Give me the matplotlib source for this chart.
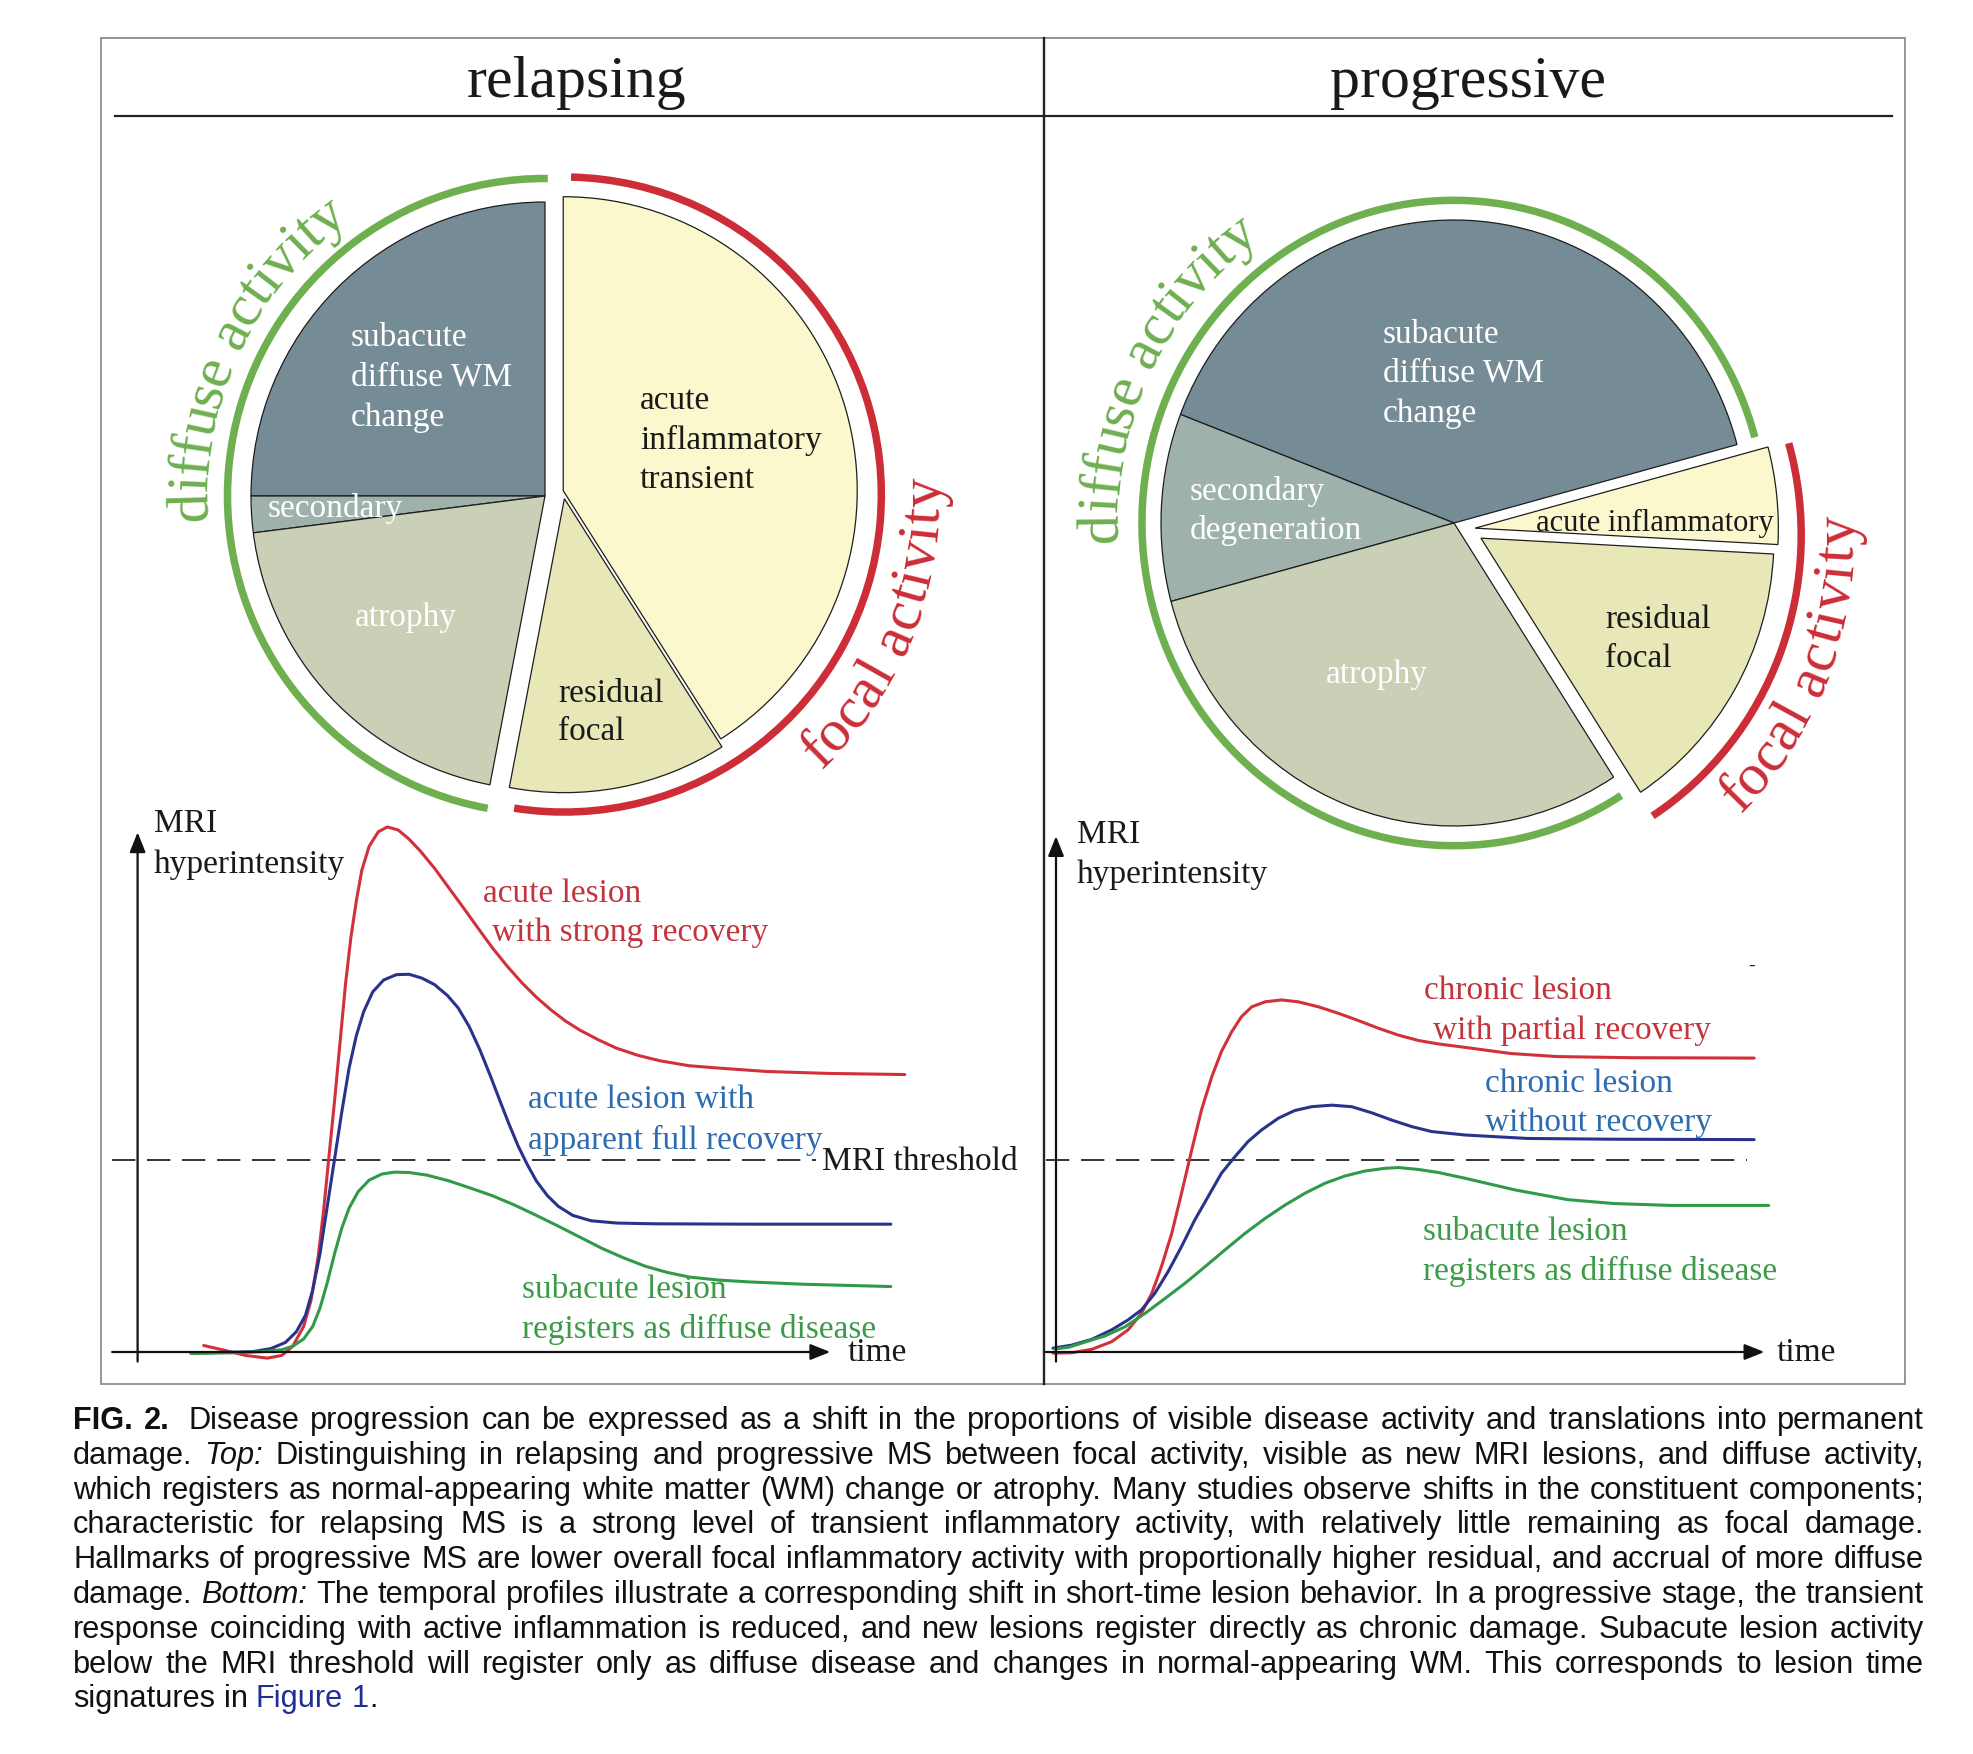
import numpy as np
import matplotlib
matplotlib.use('Agg')
import matplotlib.pyplot as plt
from matplotlib.patches import Arc, Rectangle
from matplotlib.font_manager import FontProperties, findfont
from matplotlib.ft2font import FT2Font

W, H, DPI = 1974, 1754, 100
SERIF = 'Liberation Serif'
plt.rcParams['font.family'] = [SERIF, 'DejaVu Serif']

# ---------------- data ----------------
# pie shares (%), diffuse part runs counter-clockwise, focal part clockwise
diffuse_names = ['subacute diffuse WM change', 'secondary', 'atrophy']
focal_names = ['acute inflammatory transient', 'residual focal']
rel_diffuse = [25, 2, 20]
rel_focal = [41, 12]
prog_diffuse = [40, 10, 30]
prog_focal = [5, 15]

diffuse_colors = ['#758b96', '#9fb1ab', '#c9d0b6']
focal_colors = ['#fbf8cd', '#e8e7b8']

# temporal profiles, time (a.u.) vs MRI hyperintensity (a.u.)
MRI_THRESHOLD = 5.03

rel_red_t = [1.09, 1.42, 1.78, 2.14, 2.38, 2.56, 2.74, 2.86, 2.98, 3.07, 3.16, 3.25,
             3.34, 3.43, 3.52, 3.61, 3.70, 3.82, 3.97, 4.12, 4.30, 4.48, 4.66, 4.90,
             5.14, 5.38, 5.62, 5.86, 6.10, 6.34, 6.58, 6.82, 7.06, 7.30, 7.60, 7.90,
             8.26, 8.62, 9.10, 9.58, 10.38, 11.38, 12.66]
rel_red_i = [0.17, 0.05, -0.09, -0.16, -0.09, 0.15, 0.67, 1.34, 2.48, 3.71, 5.14, 6.56,
             8.08, 9.60, 10.84, 11.79, 12.59, 13.21, 13.59, 13.72, 13.64, 13.40, 13.10, 12.64,
             12.12, 11.60, 11.07, 10.55, 10.08, 9.65, 9.27, 8.94, 8.65, 8.41, 8.16, 7.94,
             7.75, 7.61, 7.48, 7.42, 7.33, 7.28, 7.25]

rel_blue_t = [0.88, 1.42, 1.90, 2.20, 2.44, 2.62, 2.77, 2.89, 3.01, 3.13, 3.25, 3.37,
              3.49, 3.61, 3.73, 3.88, 4.06, 4.27, 4.48, 4.69, 4.90, 5.11, 5.29, 5.47,
              5.65, 5.83, 5.98, 6.13, 6.28, 6.43, 6.58, 6.76, 6.94, 7.18, 7.48, 7.90,
              8.50, 10.11, 12.43]
rel_blue_i = [-0.02, -0.01, 0.01, 0.09, 0.25, 0.53, 0.96, 1.62, 2.57, 3.81, 5.04, 6.28,
              7.42, 8.27, 8.89, 9.41, 9.72, 9.86, 9.87, 9.77, 9.60, 9.32, 8.99, 8.51,
              7.89, 7.18, 6.56, 5.95, 5.38, 4.90, 4.47, 4.09, 3.81, 3.57, 3.43, 3.37,
              3.35, 3.34, 3.34]

rel_green_t = [0.88, 1.60, 2.08, 2.38, 2.56, 2.74, 2.89, 3.01, 3.13, 3.25, 3.37, 3.49,
               3.64, 3.82, 4.03, 4.24, 4.48, 4.78, 5.14, 5.50, 5.86, 6.22, 6.58, 6.94,
               7.30, 7.66, 8.02, 8.38, 8.74, 9.10, 9.58, 10.11, 11.00, 12.43]
rel_green_i = [-0.04, -0.02, 0.01, 0.06, 0.15, 0.34, 0.67, 1.15, 1.81, 2.57, 3.24, 3.76,
               4.19, 4.49, 4.65, 4.70, 4.69, 4.62, 4.47, 4.28, 4.08, 3.84, 3.57, 3.29,
               3.00, 2.71, 2.46, 2.24, 2.08, 1.96, 1.88, 1.83, 1.77, 1.71]

prog_red_t = [-0.05, 0.26, 0.59, 0.92, 1.19, 1.41, 1.58, 1.74, 1.91, 2.07, 2.24, 2.40,
              2.57, 2.73, 2.90, 3.06, 3.23, 3.45, 3.72, 4.00, 4.33, 4.66, 4.99, 5.32,
              5.65, 5.98, 6.31, 6.75, 7.50, 8.26, 9.50, 11.52]
prog_red_i = [-0.03, -0.02, 0.07, 0.27, 0.58, 1.01, 1.53, 2.23, 3.10, 4.14, 5.28, 6.32,
              7.19, 7.85, 8.37, 8.76, 9.02, 9.15, 9.20, 9.15, 9.02, 8.85, 8.66, 8.46,
              8.28, 8.14, 8.05, 7.96, 7.80, 7.72, 7.69, 7.68]

prog_blue_t = [-0.05, 0.26, 0.59, 0.92, 1.19, 1.41, 1.63, 1.85, 2.07, 2.29, 2.51, 2.73,
               2.95, 3.17, 3.39, 3.67, 3.94, 4.22, 4.55, 4.88, 5.21, 5.54, 5.87, 6.20,
               6.75, 7.78, 9.20, 11.52]
prog_blue_i = [0.10, 0.18, 0.33, 0.58, 0.84, 1.10, 1.53, 2.10, 2.75, 3.45, 4.06, 4.67,
               5.10, 5.50, 5.80, 6.11, 6.31, 6.41, 6.45, 6.41, 6.25, 6.06, 5.89, 5.76,
               5.67, 5.58, 5.56, 5.55]

prog_green_t = [-0.02, 0.20, 0.48, 0.81, 1.14, 1.47, 1.80, 2.14, 2.46, 2.79, 3.12, 3.45,
                3.78, 4.11, 4.44, 4.77, 5.10, 5.43, 5.65, 5.98, 6.31, 6.75, 7.59, 8.45,
                9.20, 10.15, 11.76]
prog_green_i = [0.08, 0.12, 0.26, 0.42, 0.66, 1.01, 1.40, 1.81, 2.23, 2.67, 3.10, 3.49,
                3.84, 4.15, 4.41, 4.60, 4.73, 4.80, 4.82, 4.77, 4.69, 4.54, 4.23, 3.98,
                3.88, 3.83, 3.83]

caption_lines = [
    "FIG. 2. Disease progression can be expressed as a shift in the proportions of visible disease activity and translations into permanent",
    "damage. Top: Distinguishing in relapsing and progressive MS between focal activity, visible as new MRI lesions, and diffuse activity,",
    "which registers as normal-appearing white matter (WM) change or atrophy. Many studies observe shifts in the constituent components;",
    "characteristic for relapsing MS is a strong level of transient inflammatory activity, with relatively little remaining as focal damage.",
    "Hallmarks of progressive MS are lower overall focal inflammatory activity with proportionally higher residual, and accrual of more diffuse",
    "damage. Bottom: The temporal profiles illustrate a corresponding shift in short-time lesion behavior. In a progressive stage, the transient",
    "response coinciding with active inflammation is reduced, and new lesions register directly as chronic damage. Subacute lesion activity",
    "below the MRI threshold will register only as diffuse disease and changes in normal-appearing WM. This corresponds to lesion time",
    "signatures in Figure 1.",
]

GREEN = '#6eaf50'
RED = '#cc2d37'
red_line, blue_line, green_line = '#d2303a', '#29338c', '#2f9a48'
red_txt, blue_txt, green_txt = '#c4343c', '#2e6cb0', '#3c9b48'
DARK = '#1a1a1a'

# ---------------- figure ----------------
fig = plt.figure(figsize=(W / DPI, H / DPI), dpi=DPI)
fig.patch.set_facecolor('white')

bg = fig.add_axes([0, 0, 1, 1])
bg.set_xlim(0, W)
bg.set_ylim(H, 0)
bg.axis('off')


def px_axes(x0, y0, x1, y1):
    # axes placed by a pixel box with top-left origin
    ax = fig.add_axes([x0 / W, 1 - y1 / H, (x1 - x0) / W, (y1 - y0) / H])
    ax.patch.set_visible(False)
    return ax


# frame, divider and panel titles
bg.add_patch(Rectangle((101, 38), 1804, 1346, fill=False, ec='#8c8c8c', lw=1.3))
bg.plot([1044, 1044], [38, 1384], color='#222222', lw=1.7)
bg.plot([115, 1892], [116, 116], color='#222222', lw=1.6)
bg.text(577, 97, 'relapsing', size=43, ha='center', va='baseline', color=DARK)
bg.text(1468, 97, 'progressive', size=43, ha='center', va='baseline', color=DARK)

serif_path = findfont(FontProperties(family=SERIF))


def arc_text(ax, txt, center, r_units, rx, ry, start, clockwise, size, color):
    ft = FT2Font(serif_path)
    ft.set_size(size, DPI)
    em = size * DPI / 72.0
    r_px = r_units * (rx + ry) / 2.0
    r_eff = r_px + (0.25 * em if clockwise else -0.25 * em)
    ang = start
    for ch in txt:
        adv = ft.load_char(ord(ch)).linearHoriAdvance / 65536.0
        dang = np.degrees(adv / r_eff)
        mid = ang - dang / 2 if clockwise else ang + dang / 2
        a = np.radians(mid)
        x = center[0] + r_units * np.cos(a)
        y = center[1] + r_units * np.sin(a)
        rot = mid - 90 if clockwise else mid + 90
        ax.text(x, y, ch, size=size, color=color, rotation=rot, rotation_mode='anchor',
                ha='center', va='baseline')
        ang = ang - dang if clockwise else ang + dang


def draw_pie(cx, cy, rx, ry, diffuse, focal, start, acute_off, resid_off, acute_r,
             ring_g, g_span, ring_r, r_center, r_span, d_start, f_start):
    ax = px_axes(cx - 1.5 * rx, cy - 1.5 * ry, cx + 1.5 * rx, cy + 1.5 * ry)
    wp = dict(edgecolor='#1e1e1e', linewidth=0.9)
    ax.pie([v / 100 for v in diffuse], colors=diffuse_colors, startangle=start,
           counterclock=True, normalize=False, wedgeprops=wp, frame=True)
    ax.pie([focal[0] / 100], colors=focal_colors[:1], startangle=start, radius=acute_r,
           counterclock=False, normalize=False, wedgeprops=wp, center=acute_off, frame=True)
    ax.pie([focal[1] / 100], colors=focal_colors[1:], startangle=start - focal[0] * 3.6,
           counterclock=False, normalize=False, wedgeprops=wp, center=resid_off, frame=True)
    ax.set_aspect('auto')
    ax.set_xlim(-1.5, 1.5)
    ax.set_ylim(-1.5, 1.5)
    ax.axis('off')
    ax.add_patch(Arc((0, 0), 2 * ring_g, 2 * ring_g, theta1=g_span[0], theta2=g_span[1],
                     lw=5.4, color=GREEN))
    ax.add_patch(Arc(r_center, 2 * ring_r, 2 * ring_r, theta1=r_span[0], theta2=r_span[1],
                     lw=5.4, color=RED))
    arc_text(ax, 'diffuse activity', (0, 0), 1.15, rx, ry, d_start, True, 43, GREEN)
    arc_text(ax, 'focal activity', r_center, 1.28, rx, ry, f_start, False, 43, RED)
    return ax


draw_pie(545, 496, 294, 294, rel_diffuse, rel_focal, 90,
         (0.062, 0.018), (0.066, -0.009), 1.0,
         1.08, (89.5, 259.6), 1.08, (0.064, 0.005), (261, 448.7), 184, -47)
draw_pie(1454, 523, 293, 303, prog_diffuse, prog_focal, 15,
         (0.072, -0.017), (0.092, -0.05), 1.035,
         1.065, (15.4, 302.4), 1.1, (0.085, -0.04), (-57.4, 16.0), 183, -46)

# ---------------- temporal profiles ----------------
SX, SY = 60.6, 38.27  # pixels per unit
TMIN, TMAX, IMIN, IMAX = -0.8, 13.5, -0.6, 14.5


def draw_chart(x0, ybase, curves, thr_end, x_start, x_end, y_top):
    ax = px_axes(x0 + TMIN * SX, ybase - IMAX * SY, x0 + TMAX * SX, ybase - IMIN * SY)
    ax.set_xlim(TMIN, TMAX)
    ax.set_ylim(IMIN, IMAX)
    ax.axis('off')
    ax.plot([x_start, thr_end], [MRI_THRESHOLD, MRI_THRESHOLD], color='#333333',
            lw=1.4, ls=(0, (12, 6)))
    arrow = dict(arrowstyle='-|>,head_length=0.55,head_width=0.22', lw=1.6,
                 color='#111111', shrinkA=0, shrinkB=0, mutation_scale=22)
    ax.annotate('', xy=(x_end, 0), xytext=(x_start, 0), arrowprops=arrow)
    ax.annotate('', xy=(0, y_top), xytext=(0, -0.25), arrowprops=arrow)
    for t, v, c in curves:
        ax.plot(t, v, color=c, lw=2.2, solid_joinstyle='round', solid_capstyle='round')
    return ax


draw_chart(137.6, 1352, [(rel_red_t, rel_red_i, red_line),
                         (rel_blue_t, rel_blue_i, blue_line),
                         (rel_green_t, rel_green_i, green_line)],
           11.2, -0.42, 11.43, 13.58)
draw_chart(1056, 1352, [(prog_red_t, prog_red_i, red_line),
                        (prog_blue_t, prog_blue_i, blue_line),
                        (prog_green_t, prog_green_i, green_line)],
           11.4, -0.17, 11.69, 13.48)

# ---------------- text layer on top ----------------
fg = fig.add_axes([0, 0, 1, 1])
fg.set_xlim(0, W)
fg.set_ylim(H, 0)
fg.axis('off')

lab = dict(size=24, va='baseline')
for y, s in zip([346, 385, 426], ['subacute', 'diffuse WM', 'change']):
    fg.text(351, y, s, color='white', **lab)
fg.text(268, 517, 'secondary', color='white', **lab)
fg.text(406, 626, 'atrophy', color='white', ha='center', **lab)
for y, s in zip([409, 449, 488], ['acute', 'inflammatory', 'transient']):
    fg.text(640, y, s, color=DARK, **lab)
for y, s in zip([702, 740], ['residual', 'focal']):
    fg.text(558, y, s, color=DARK, **lab)

for y, s in zip([343, 381, 422], ['subacute', 'diffuse WM', 'change']):
    fg.text(1383, y, s, color='white', **lab)
for y, s in zip([500, 539], ['secondary', 'degeneration']):
    fg.text(1190, y, s, color='white', **lab)
fg.text(1377, 683, 'atrophy', color='white', ha='center', **lab)
fg.text(1536, 531, 'acute inflammatory', color=DARK, size=22, va='baseline')
for y, s in zip([628, 667], ['residual', 'focal']):
    fg.text(1605, y, s, color=DARK, **lab)

tl = dict(size=24, va='baseline')
fg.text(154, 832, 'MRI', color=DARK, **tl)
fg.text(154, 873, 'hyperintensity', color=DARK, **tl)
fg.text(483, 902, 'acute lesion', color=red_txt, **tl)
fg.text(492, 941, 'with strong recovery', color=red_txt, **tl)
fg.text(528, 1108, 'acute lesion with', color=blue_txt, **tl)
fg.text(528, 1149, 'apparent full recovery', color=blue_txt, **tl)
fg.text(822, 1170, 'MRI threshold', color=DARK, **tl)
fg.text(522, 1298, 'subacute lesion', color=green_txt, **tl)
fg.text(522, 1338, 'registers as diffuse disease', color=green_txt, **tl)
fg.text(848, 1361, 'time', color=DARK, **tl)

fg.text(1077, 843, 'MRI', color=DARK, **tl)
fg.text(1077, 883, 'hyperintensity', color=DARK, **tl)
fg.text(1424, 999, 'chronic lesion', color=red_txt, **tl)
fg.text(1433, 1039, 'with partial recovery', color=red_txt, **tl)
fg.text(1485, 1092, 'chronic lesion', color=blue_txt, **tl)
fg.text(1485, 1131, 'without recovery', color=blue_txt, **tl)
fg.text(1423, 1240, 'subacute lesion', color=green_txt, **tl)
fg.text(1423, 1280, 'registers as diffuse disease', color=green_txt, **tl)
fg.text(1777, 1361, 'time', color=DARK, **tl)
fg.text(1752, 971, '-', color=DARK, size=14, ha='center', va='baseline')

# ---------------- caption (justified) ----------------
CAP_X0, CAP_X1 = 73, 1924
CAP_Y0, CAP_DY = 1429, 34.8
renderer = fig.canvas.get_renderer()


def cap_prop(style, size):
    return FontProperties(family=['Liberation Sans', 'DejaVu Sans'], size=size,
                          weight='bold' if style == 'b' else 'normal',
                          style='italic' if style == 'i' else 'normal')


def wlen(s, style, size):
    w, h, d = renderer.get_text_width_height_descent(s, cap_prop(style, size), ismath=False)
    return w


def word_style(li, wi, word):
    if li == 0 and wi < 2:
        return 'b'
    if word in ('Top:', 'Bottom:'):
        return 'i'
    if li == len(caption_lines) - 1 and word in ('Figure', '1.'):
        return 'l'
    return 'n'


def line_words(li, size):
    words = caption_lines[li].split(' ')
    return [(w, word_style(li, i, w), wlen(w, word_style(li, i, w), size))
            for i, w in enumerate(words)]


def space_w(size):
    return wlen('a a', 'n', size) - wlen('aa', 'n', size)


s0 = 18.0
nat = []
for li in range(len(caption_lines) - 1):
    ws = line_words(li, s0)
    extra = space_w(s0) if li == 0 else 0
    nat.append(sum(w[2] for w in ws) + (len(ws) - 1) * space_w(s0) + extra)
cap_size = s0 * (CAP_X1 - CAP_X0) / max(nat) * 0.997

for li in range(len(caption_lines)):
    ws = line_words(li, cap_size)
    y = CAP_Y0 + li * CAP_DY
    extra = space_w(cap_size) if li == 0 else 0
    if li < len(caption_lines) - 1:
        gap = (CAP_X1 - CAP_X0 - sum(w[2] for w in ws) - extra) / (len(ws) - 1)
    else:
        gap = space_w(cap_size)
    x = CAP_X0
    for i, (w, st, wl) in enumerate(ws):
        prop = cap_prop(st, cap_size)
        if st == 'l' and w.endswith('.'):
            core = w[:-1]
            fg.text(x, y, core, fontproperties=prop, color='#1f2f96', va='baseline')
            fg.text(x + wlen(core, 'n', cap_size) + 1, y, '.',
                    fontproperties=cap_prop('n', cap_size), color='#111111', va='baseline')
        else:
            fg.text(x, y, w, fontproperties=prop, va='baseline',
                    color='#1f2f96' if st == 'l' else '#111111')
        x += wl + gap
        if li == 0 and i == 1:
            x += extra

fig.savefig('out.png', dpi=DPI, facecolor='white')
